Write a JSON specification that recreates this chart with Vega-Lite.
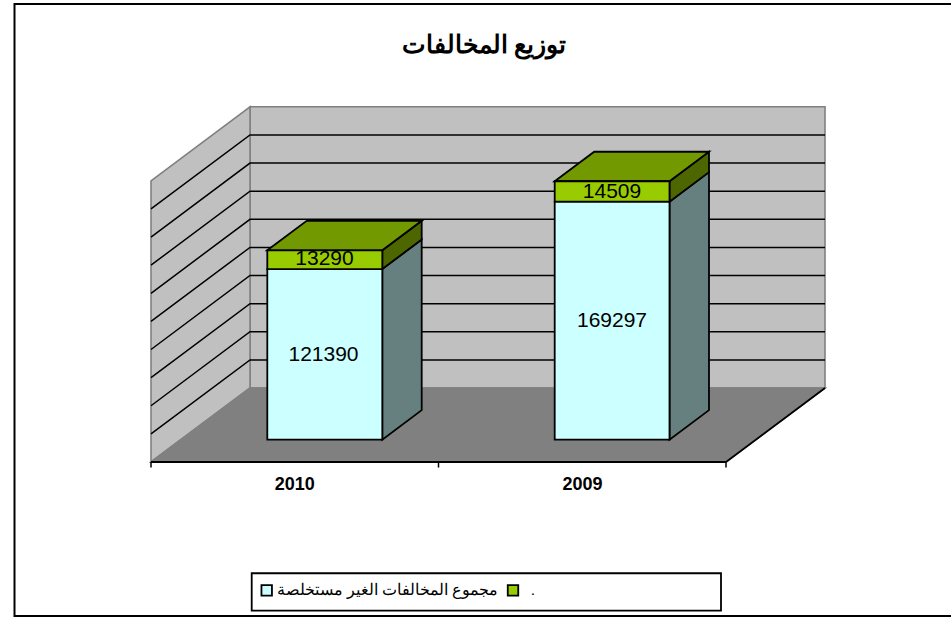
{
"$schema":"https://vega.github.io/schema/vega-lite/v6.json",
"autosize":{"type":"none"},
"width":951,"height":618,"padding":0,"background":"white",
"config":{"view":{"stroke":null},"text":{"font":"Liberation Sans"}},
"datasets":{
"walls":[
{"poly":"back","part":"wall","x":250,"top":236769,"bottom":36769},
{"poly":"back","part":"wall","x":825,"top":236769,"bottom":36769},
{"poly":"left","part":"wall","x":151,"top":184140,"bottom":-15860},
{"poly":"left","part":"wall","x":250,"top":236769,"bottom":36769},
{"poly":"floor","part":"floor","x":151,"top":-15860,"bottom":-15860},
{"poly":"floor","part":"floor","x":250,"top":36769,"bottom":-15860},
{"poly":"floor","part":"floor","x":726,"top":36769,"bottom":-15860},
{"poly":"floor","part":"floor","x":825,"top":36769,"bottom":36769}
],
"grid":[
{"g":20000,"x":151,"v":4140},{"g":20000,"x":250,"v":56769},{"g":20000,"x":825,"v":56769},
{"g":40000,"x":151,"v":24140},{"g":40000,"x":250,"v":76769},{"g":40000,"x":825,"v":76769},
{"g":60000,"x":151,"v":44140},{"g":60000,"x":250,"v":96769},{"g":60000,"x":825,"v":96769},
{"g":80000,"x":151,"v":64140},{"g":80000,"x":250,"v":116769},{"g":80000,"x":825,"v":116769},
{"g":100000,"x":151,"v":84140},{"g":100000,"x":250,"v":136769},{"g":100000,"x":825,"v":136769},
{"g":120000,"x":151,"v":104140},{"g":120000,"x":250,"v":156769},{"g":120000,"x":825,"v":156769},
{"g":140000,"x":151,"v":124140},{"g":140000,"x":250,"v":176769},{"g":140000,"x":825,"v":176769},
{"g":160000,"x":151,"v":144140},{"g":160000,"x":250,"v":196769},{"g":160000,"x":825,"v":196769},
{"g":180000,"x":151,"v":164140},{"g":180000,"x":250,"v":216769},{"g":180000,"x":825,"v":216769}
],
"baseline":[
{"seg":"axis","x":151,"v":-15860},{"seg":"axis","x":726,"v":-15860},
{"seg":"diag","x":726,"v":-15860},{"seg":"diag","x":825,"v":36769}
],
"ticks":[{"x":151,"v":-15860,"v2":-19800},{"x":438.5,"v":-15860,"v2":-19800},{"x":726,"v":-15860,"v2":-19800}],
"faces":[
{"poly":"s10a","part":"sideA","x":382.3,"top":121390,"bottom":0},
{"poly":"s10a","part":"sideA","x":421.7,"top":142390,"bottom":21000},
{"poly":"s10b","part":"sideB","x":382.3,"top":134680,"bottom":121390},
{"poly":"s10b","part":"sideB","x":421.7,"top":155680,"bottom":142390},
{"poly":"t10","part":"topB","x":267.3,"top":134680,"bottom":134680},
{"poly":"t10","part":"topB","x":306.7,"top":155680,"bottom":134680},
{"poly":"t10","part":"topB","x":382.3,"top":155680,"bottom":134680},
{"poly":"t10","part":"topB","x":421.7,"top":155680,"bottom":155680},
{"poly":"s09a","part":"sideA","x":669.5,"top":169297,"bottom":0},
{"poly":"s09a","part":"sideA","x":709,"top":190297,"bottom":21000},
{"poly":"s09b","part":"sideB","x":669.5,"top":183806,"bottom":169297},
{"poly":"s09b","part":"sideB","x":709,"top":204806,"bottom":190297},
{"poly":"t09","part":"topB","x":554.7,"top":183806,"bottom":183806},
{"poly":"t09","part":"topB","x":594.2,"top":204806,"bottom":183806},
{"poly":"t09","part":"topB","x":669.5,"top":204806,"bottom":183806},
{"poly":"t09","part":"topB","x":709,"top":204806,"bottom":204806}
],
"bars":[
{"year":"2010","series":"A","value":121390,"start":0,"end":121390,"x0":267.3,"x1":382.3,"xc":323.5,"mid":60950},
{"year":"2010","series":"B","value":13290,"start":121390,"end":134680,"x0":267.3,"x1":382.3,"xc":324.5,"mid":129000},
{"year":"2009","series":"A","value":169297,"start":0,"end":169297,"x0":554.7,"x1":669.5,"xc":612,"mid":85130},
{"year":"2009","series":"B","value":14509,"start":169297,"end":183806,"x0":554.7,"x1":669.5,"xc":612,"mid":177090}
],
"years":[{"year":"2010","x":294.7,"v":-32200},{"year":"2009","x":582.5,"v":-32200}],
"frame":[
{"o":1,"x":951,"v":309876},{"o":2,"x":14.5,"v":309876},{"o":3,"x":14.5,"v":-125316},{"o":4,"x":951,"v":-125316}
],
"legendBox":[{"x":251.7,"x2":721,"v":-95000,"v2":-121500}],
"legendKeys":[{"series":"A","x":266.7,"v":-107200},{"series":"B","x":513,"v":-107200}],
"legendText":[{"label":"مجموع المخالفات الغير مستخلصة","x":387.5,"v":-107200},{"label":".","x":533,"v":-107200}],
"title":[{"label":"توزيع المخالفات","x":484,"v":280700}]
},
"layer":[
{"data":{"name":"walls"},"mark":{"type":"area","orient":"vertical","stroke":"#808080","strokeWidth":1.6},
 "encoding":{
  "x":{"field":"x","type":"quantitative","scale":{"domain":[0,951],"nice":false,"zero":false},"axis":null},
  "y":{"field":"top","type":"quantitative","stack":null,"scale":{"domain":[-126814,312731],"nice":false,"zero":false},"axis":null},
  "y2":{"field":"bottom"},
  "detail":{"field":"poly"},
  "fill":{"field":"part","type":"nominal","scale":{"domain":["wall","floor","sideA","sideB","topB","A","B"],"range":["#C0C0C0","#808080","#668080","#4D6600","#739900","#CCFFFF","#99CC00"]},"legend":null}}},
{"data":{"name":"grid"},"mark":{"type":"line","color":"#000000","strokeWidth":1.5},
 "encoding":{"x":{"field":"x","type":"quantitative"},"y":{"field":"v","type":"quantitative"},"detail":{"field":"g"}}},
{"data":{"name":"baseline"},"mark":{"type":"line","color":"#000000","strokeWidth":1.8},
 "encoding":{"x":{"field":"x","type":"quantitative"},"y":{"field":"v","type":"quantitative"},"detail":{"field":"seg"}}},
{"data":{"name":"ticks"},"mark":{"type":"rule","color":"#000000","strokeWidth":1.5},
 "encoding":{"x":{"field":"x","type":"quantitative"},"y":{"field":"v","type":"quantitative"},"y2":{"field":"v2"}}},
{"data":{"name":"faces"},"mark":{"type":"area","orient":"vertical","stroke":"#000000","strokeWidth":1.8},
 "encoding":{
  "x":{"field":"x","type":"quantitative"},
  "y":{"field":"top","type":"quantitative","stack":null},
  "y2":{"field":"bottom"},
  "detail":{"field":"poly"},
  "fill":{"field":"part","type":"nominal","legend":null}}},
{"data":{"name":"bars"},"mark":{"type":"rect","stroke":"#000000","strokeWidth":1.8},
 "encoding":{
  "x":{"field":"x0","type":"quantitative"},"x2":{"field":"x1"},
  "y":{"field":"start","type":"quantitative"},"y2":{"field":"end"},
  "fill":{"field":"series","type":"nominal","legend":null}}},
{"data":{"name":"bars"},"mark":{"type":"text","fontSize":21,"color":"#000000","baseline":"middle","align":"center","dy":1},
 "encoding":{"x":{"field":"xc","type":"quantitative"},"y":{"field":"mid","type":"quantitative"},"text":{"field":"value","type":"nominal"}}},
{"data":{"name":"years"},"mark":{"type":"text","fontSize":18,"fontWeight":"bold","color":"#000000","baseline":"middle","align":"center"},
 "encoding":{"x":{"field":"x","type":"quantitative"},"y":{"field":"v","type":"quantitative"},"text":{"field":"year","type":"nominal"}}},
{"data":{"name":"frame"},"mark":{"type":"line","color":"#000000","strokeWidth":2},
 "encoding":{"x":{"field":"x","type":"quantitative"},"y":{"field":"v","type":"quantitative"},"order":{"field":"o","type":"quantitative"}}},
{"data":{"name":"legendBox"},"mark":{"type":"rect","fill":"#FFFFFF","stroke":"#000000","strokeWidth":1.8},
 "encoding":{"x":{"field":"x","type":"quantitative"},"x2":{"field":"x2"},"y":{"field":"v","type":"quantitative"},"y2":{"field":"v2"}}},
{"data":{"name":"legendKeys"},"mark":{"type":"point","shape":"square","size":110,"filled":true,"stroke":"#000000","strokeWidth":1.8,"opacity":1},
 "encoding":{"x":{"field":"x","type":"quantitative"},"y":{"field":"v","type":"quantitative"},
  "fill":{"field":"series","type":"nominal","legend":null}}},
{"data":{"name":"legendText"},"mark":{"type":"text","fontSize":15.5,"color":"#000000","baseline":"middle","align":"center"},
 "encoding":{"x":{"field":"x","type":"quantitative"},"y":{"field":"v","type":"quantitative"},"text":{"field":"label","type":"nominal"}}},
{"data":{"name":"title"},"mark":{"type":"text","fontSize":25,"fontWeight":"bold","color":"#000000","baseline":"middle","align":"center"},
 "encoding":{"x":{"field":"x","type":"quantitative"},"y":{"field":"v","type":"quantitative"},"text":{"field":"label","type":"nominal"}}}
]
}
